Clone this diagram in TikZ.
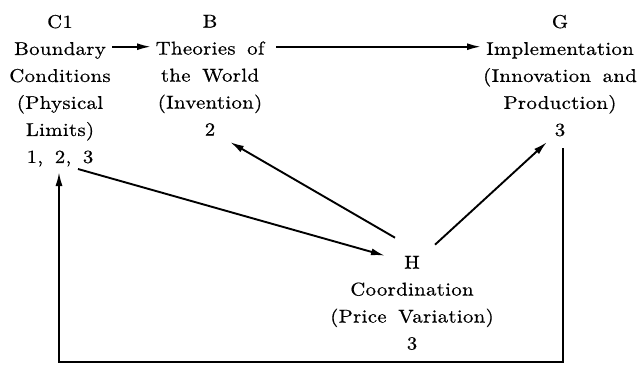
\documentclass[tikz,border=0pt]{standalone}
\usepackage{fontspec}
\setmainfont{lmroman10-regular}[Extension=.otf, FakeStretch=1.12, LetterSpace=2, WordSpace=1.6, FakeBold=0.6]
\usetikzlibrary{calc,arrows.meta}
\begin{document}
\begin{tikzpicture}[x=1pt,y=1pt,
  lbl/.style={anchor=north, inner sep=0pt, align=center, font=\fontsize{18.5}{27}\selectfont},
  arr/.style={-{Latex[length=14pt,width=7pt]}, line width=1.9pt},
  ln/.style={line width=1.9pt}]
\useasboundingbox (0,0) rectangle (639,365);
\node[lbl] (c1) at (60,350.3) {C1\\Boundary\\Conditions\\(Physical\\Limits)\\1, 2, 3};
\node[lbl] (b) at (210,350.3) {B\\Theories of\\the World\\(Invention)\\2};
\node[lbl] (g) at (560,350.3) {G\\Implementation\\(Innovation and\\Production)\\3};
\node[lbl] (h) at (412,109.3) {H\\Coordination\\(Price Variation)\\3};
\coordinate (fb) at (300,3);
\draw[arr] ($(c1.north)+(52,-32)$) -- ($(b.north)+(-59,-32)$);
\draw[arr] ($(b.north)+(66,-32)$) -- ($(g.north)+(-79,-32)$);
\draw[arr] ($(h.north)+(-17,18)$) -- ($(b.north)+(20,-127.3)$);
\draw[arr] ($(c1.north)+(18,-154.3)$) -- ($(h.north)+(-27,0)$);
\draw[arr] ($(h.north)+(23,11)$) -- ($(g.north)+(-13,-127.3)$);
\draw[arr] ($(g.north)+(3,-133.3)$) |- (fb) -| ($(c1.north)+(-1,-157.3)$);
\end{tikzpicture}
\end{document}
